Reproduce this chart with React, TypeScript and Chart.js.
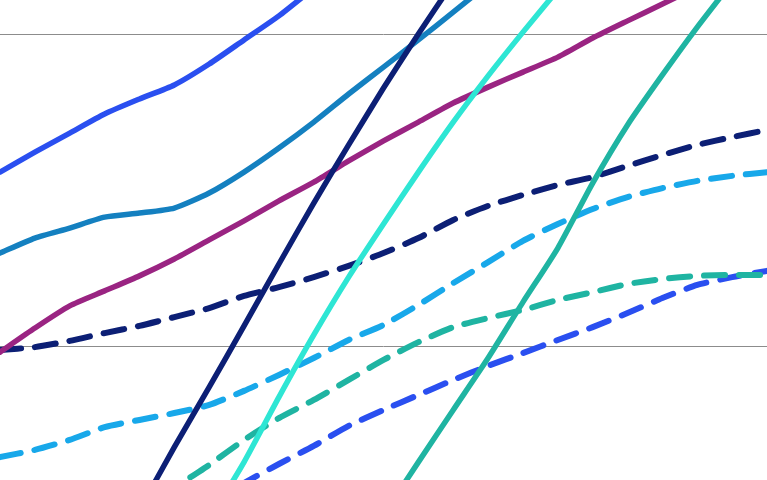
import { useEffect, useRef } from 'react';
import { Chart, registerables } from 'chart.js';

Chart.register(...registerables);

const periods = [
  'P1', 'P2', 'P3', 'P4', 'P5', 'P6', 'P7', 'P8', 'P9', 'P10', 'P11', 'P12',
  'P13', 'P14', 'P15', 'P16', 'P17', 'P18', 'P19', 'P20', 'P21', 'P22', 'P23',
];

// solid series
const navySolid = [null, null, null, null, 4.77, 6.78, 8.70, 10.66, 12.64, 14.59, 16.45, 18.27, 20.0, 21.66, null, null, null, null, null, null, null, null, null];
const turquoiseSolid = [null, null, null, null, null, null, 4.45, 6.30, 8.38, 10.37, 12.22, 13.92, 15.58, 17.18, 18.66, 20.06, 21.41, null, null, null, null, null, null];
const tealSolid = [null, null, null, null, null, null, null, null, null, null, null, 4.61, 6.30, 7.97, 9.63, 11.42, 13.15, 15.23, 17.09, 18.69, 20.22, 21.66, null];
const blueSolid = [15.58, 16.22, 16.83, 17.44, 17.92, 18.37, 19.04, 19.81, 20.58, 21.47, null, null, null, null, null, null, null, null, null, null, null, null, null];
const steelSolid = [12.99, 13.47, 13.79, 14.14, 14.27, 14.43, 14.91, 15.58, 16.35, 17.18, 18.08, 18.94, 19.81, 20.70, 21.60, null, null, null, null, null, null, null, null];
const purpleSolid = [9.82, 10.59, 11.30, 11.78, 12.26, 12.80, 13.41, 14.02, 14.66, 15.26, 15.94, 16.58, 17.18, 17.79, 18.30, 18.78, 19.26, 19.87, 20.42, 20.96, 21.50, null, null];

// dashed series
const navyDashed = [9.89, 9.98, 10.18, 10.43, 10.66, 10.94, 11.23, 11.62, 11.90, 12.22, 12.58, 12.99, 13.47, 14.05, 14.50, 14.85, 15.17, 15.42, 15.78, 16.13, 16.45, 16.70, 16.93];
const skyDashed = [6.46, 6.69, 7.01, 7.42, 7.65, 7.87, 8.13, 8.58, 9.09, 9.63, 10.21, 10.69, 11.33, 12.03, 12.70, 13.38, 13.92, 14.40, 14.78, 15.07, 15.30, 15.46, 15.58];
const tealDashed = [null, null, null, null, 4.29, 5.45, 6.21, 7.01, 7.71, 8.29, 8.93, 9.57, 10.14, 10.62, 10.91, 11.17, 11.49, 11.74, 12.00, 12.16, 12.26, 12.29, 12.29];
const blueDashed = [null, null, null, null, null, null, 4.93, 5.63, 6.24, 6.82, 7.46, 7.97, 8.45, 8.93, 9.38, 9.79, 10.21, 10.62, 11.07, 11.55, 11.97, 12.22, 12.42];

const gridValues = [10, 20];
const yMin = 5.728;
const yMax = 21.088;

function solid(data: (number | null)[], color: string) {
  return {
    data,
    borderColor: color,
    borderWidth: 5.5,
    borderCapStyle: 'round' as const,
    borderJoinStyle: 'round' as const,
    pointRadius: 0,
    tension: 0.2,
    fill: false,
  };
}

function dashed(data: (number | null)[], color: string) {
  return {
    data,
    borderColor: color,
    borderWidth: 6,
    borderDash: [21, 14],
    borderCapStyle: 'round' as const,
    borderJoinStyle: 'round' as const,
    pointRadius: 0,
    tension: 0.2,
    fill: false,
  };
}

function LinesChart() {
  const canvasRef = useRef<HTMLCanvasElement>(null);

  useEffect(() => {
    const canvas = canvasRef.current;
    if (!canvas) return;
    const chart = new Chart(canvas, {
      type: 'line',
      data: {
        labels: periods,
        datasets: [
          solid(navySolid, '#0c1f75'),
          solid(turquoiseSolid, '#2ee6d4'),
          solid(tealSolid, '#1fb4a2'),
          solid(blueSolid, '#2a4ff0'),
          solid(steelSolid, '#1480c0'),
          solid(purpleSolid, '#9a2482'),
          dashed(navyDashed, '#0c1f75'),
          dashed(skyDashed, '#18a8ea'),
          dashed(tealDashed, '#1fb4a2'),
          dashed(blueDashed, '#2a4ff0'),
        ],
      },
      options: {
        animation: false,
        responsive: false,
        layout: { padding: 0 },
        plugins: {
          legend: { display: false },
          tooltip: { enabled: false },
        },
        scales: {
          x: {
            type: 'category',
            display: false,
            offset: false,
          },
          y: {
            type: 'linear',
            min: yMin,
            max: yMax,
            ticks: { display: false, stepSize: 10 },
            border: { display: false },
            grid: {
              drawTicks: false,
              lineWidth: 1,
              color: (ctx: any) =>
                gridValues.includes(Math.round(ctx.tick?.value * 1000) / 1000) ? '#8c8c8c' : 'rgba(0,0,0,0)',
            },
          },
        },
      },
    });
    return () => {
      chart.destroy();
    };
  }, []);

  return <canvas ref={canvasRef} width={767} height={480} />;
}

export default function App() {
  return (
    <div style={{ position: 'fixed', left: 0, top: 0, width: 767, height: 480, background: '#fff' }}>
      <LinesChart />
    </div>
  );
}
